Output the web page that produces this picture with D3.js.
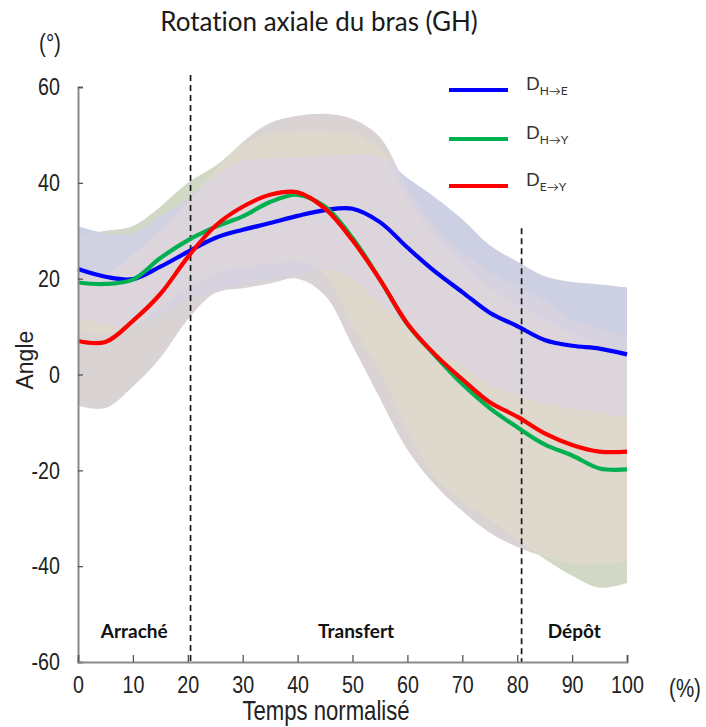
<!DOCTYPE html>
<html>
<head>
<meta charset="utf-8">
<script src="https://cdn.jsdelivr.net/npm/d3@7/dist/d3.min.js"></script>
<style>
  body { margin: 0; background: #fff; }
  text { font-variant-ligatures: none; }
</style>
</head>
<body>
<svg id="chart" width="706" height="727"></svg>
<script>
// Normalised time (%) at which every curve is sampled
const pct = [0, 5, 10, 15, 20, 25, 30, 35, 40, 45, 50, 55, 60, 65, 70, 75, 80, 85, 90, 95, 100];

// D H→E : mean and dispersion band (°)
const meanHE  = [22.0, 20.4, 19.9, 22.5, 25.6, 28.5, 30.2, 31.6, 33.1, 34.3, 34.6, 31.8, 26.5, 21.5, 17.2, 12.9, 10.1, 7.2, 6.0, 5.4, 4.2];
const upperHE = [31.0, 29.5, 29.5, 33.0, 36.5, 41.5, 44.5, 45.0, 45.3, 45.5, 45.8, 45.5, 41.0, 37.0, 32.4, 27.0, 23.6, 20.5, 19.3, 18.8, 18.2];
const lowerHE = [12.0, 10.5, 10.0, 12.5, 15.5, 17.5, 18.8, 19.8, 20.8, 22.0, 20.0, 15.0, 10.0, 5.5, 2.0, -2.0, -4.5, -6.0, -7.0, -8.0, -8.8];

// D H→Y
const meanHY  = [19.2, 18.9, 19.8, 24.3, 28.0, 30.8, 33.0, 36.0, 37.5, 35.0, 28.5, 19.8, 10.5, 4.0, -2.0, -7.0, -11.0, -14.6, -16.9, -19.6, -19.8];
const upperHY = [29.0, 30.0, 31.0, 35.0, 40.0, 43.5, 48.0, 50.3, 50.7, 50.7, 50.3, 47.0, 37.0, 29.0, 23.0, 18.0, 14.5, 11.5, 8.5, 6.0, 3.5];
const lowerHY = [9.4, 8.5, 10.0, 14.0, 18.0, 21.0, 22.5, 23.0, 23.5, 21.0, 10.0, 0.5, -11.5, -21.5, -26.5, -30.3, -34.4, -38.5, -42.0, -44.5, -43.5];

// D E→Y
const meanEY  = [7.0, 6.8, 11.2, 16.8, 24.5, 31.0, 35.0, 37.5, 38.0, 34.6, 28.0, 19.8, 10.6, 4.2, -1.0, -5.8, -8.8, -12.3, -14.7, -16.1, -16.1];
const upperEY = [20.5, 21.0, 25.0, 30.0, 36.0, 42.5, 48.5, 52.5, 54.0, 54.4, 53.3, 49.5, 39.0, 31.0, 25.5, 21.5, 18.5, 15.5, 11.5, 9.5, 7.7];
const lowerEY = [-6.5, -7.0, -2.5, 3.5, 11.5, 17.0, 18.0, 19.0, 20.0, 16.5, 6.0, -5.0, -15.7, -23.0, -28.5, -33.0, -36.0, -38.0, -39.5, -39.5, -39.0];

// Axes
const xTicks = [0, 10, 20, 30, 40, 50, 60, 70, 80, 90, 100];
const yTicks = [-60, -40, -20, 0, 20, 40, 60];

// Task phases: boundaries (%) and the angle each dashed marker rises to
const phaseBounds = [20.5, 80.8];
const phaseTops = [62.5, 30.5];
const phaseNames = ["Arraché", "Transfert", "Dépôt"];

const legendSubs = ["H→E", "H→Y", "E→Y"];

const svg = d3.select("#chart");
const x = d3.scaleLinear().domain([0, 100]).range([78, 627]);
const y = d3.scaleLinear().domain([-60, 60]).range([662, 87]);

const series = [
  { id: "B", mean: meanHE, hi: upperHE, lo: lowerHE, color: "#0000ff", sub: legendSubs[0] },
  { id: "G", mean: meanHY, hi: upperHY, lo: lowerHY, color: "#00b050", sub: legendSubs[1] },
  { id: "R", mean: meanEY, hi: upperEY, lo: lowerEY, color: "#ff0000", sub: legendSubs[2] }
];

const curve = d3.curveCatmullRom.alpha(0.5);
const band = s => d3.area()
  .x((d, i) => x(pct[i]))
  .y0((d, i) => y(s.lo[i]))
  .y1((d, i) => y(s.hi[i]))
  .curve(curve)(pct);
const meanLine = s => d3.line()
  .x((d, i) => x(pct[i]))
  .y((d, i) => y(s.mean[i]))
  .curve(curve)(pct);

const byId = Object.fromEntries(series.map(s => [s.id, s]));

// clip paths so that each overlap of the bands gets its own tint
const defs = svg.append("defs");
series.forEach(s => {
  defs.append("clipPath").attr("id", "clip-" + s.id)
    .append("path").attr("d", band(s));
});

const tint = {
  R: "#d9d3d4", G: "#d1d9c6", B: "#cdd0e3",
  RG: "#dfd8cc", BG: "#d0d2e2", BR: "#d7d2df", BRG: "#ddd5dc"
};

const bands = svg.append("g");
bands.append("path").attr("d", band(byId.R)).attr("fill", tint.R);
bands.append("path").attr("d", band(byId.G)).attr("fill", tint.G);
bands.append("path").attr("d", band(byId.B)).attr("fill", tint.B);
bands.append("path").attr("d", band(byId.R)).attr("fill", tint.RG).attr("clip-path", "url(#clip-G)");
bands.append("path").attr("d", band(byId.B)).attr("fill", tint.BG).attr("clip-path", "url(#clip-G)");
bands.append("path").attr("d", band(byId.B)).attr("fill", tint.BR).attr("clip-path", "url(#clip-R)");
bands.append("g").attr("clip-path", "url(#clip-R)")
  .append("path").attr("d", band(byId.B)).attr("fill", tint.BRG).attr("clip-path", "url(#clip-G)");

// phase boundaries
svg.append("g").selectAll("line").data(phaseBounds).join("line")
  .attr("x1", d => x(d)).attr("x2", d => x(d))
  .attr("y1", (d, i) => y(phaseTops[i])).attr("y2", y(-60))
  .attr("stroke", "#1a1a1a").attr("stroke-width", 1.7).attr("stroke-dasharray", "6,4");

// mean curves
svg.append("g").selectAll("path").data(series).join("path")
  .attr("d", s => meanLine(s))
  .attr("fill", "none")
  .attr("stroke", s => s.color)
  .attr("stroke-width", 4.2)
  .attr("stroke-linejoin", "round");

// condensed sans: Liberation Sans squeezed horizontally
const SQ = 0.82;
const sansFont = "'Liberation Sans', Arial, sans-serif";
function squeeze(sel) {
  sel.each(function () {
    const t = d3.select(this);
    const x0 = +(t.attr("x") || 0);
    t.attr("x", x0 / SQ).attr("transform", `scale(${SQ},1)`);
  });
}

// axes
const axisColor = "#8a8a8a";
const yAxis = svg.append("g").attr("transform", `translate(${x(0)},0)`)
  .call(d3.axisLeft(y).tickValues(yTicks).tickFormat(d => String(d))
    .tickSizeInner(-5).tickSizeOuter(-5).tickPadding(18));
const xAxis = svg.append("g").attr("transform", `translate(0,${y(-60)})`)
  .call(d3.axisBottom(x).tickValues(xTicks).tickFormat(d => String(d))
    .tickSizeInner(-7).tickSizeOuter(-7).tickPadding(14));
[yAxis, xAxis].forEach(a => {
  a.select(".domain").attr("stroke", axisColor).attr("stroke-width", 2);
  a.selectAll(".tick line").attr("stroke", "#555").attr("stroke-width", 1.3);
  a.selectAll(".tick text").attr("font-family", sansFont).attr("font-size", 24).attr("fill", "#222")
    .call(squeeze);
});

// axis titles
svg.append("text").attr("x", 50).attr("y", 52).attr("font-family", sansFont)
  .attr("text-anchor", "middle").attr("font-size", 25).attr("fill", "#222").text("(°)").call(squeeze);
svg.append("text").attr("x", 685).attr("y", 697).attr("font-family", sansFont)
  .attr("text-anchor", "middle").attr("font-size", 25).attr("fill", "#222").text("(%)").call(squeeze);
svg.append("text").attr("font-family", sansFont)
  .attr("transform", `translate(33,${y(3)}) rotate(-90)`)
  .attr("text-anchor", "middle").attr("font-size", 23).attr("fill", "#222").text("Angle");
svg.append("text").attr("x", 326).attr("y", 720).attr("font-family", sansFont)
  .attr("text-anchor", "middle").attr("font-size", 27).attr("fill", "#222").text("Temps normalisé")
  .call(squeeze);

// title
svg.append("text").attr("x", 319).attr("y", 31)
  .attr("text-anchor", "middle").attr("font-family", "Lato, 'Open Sans', sans-serif")
  .attr("font-size", 26).attr("fill", "#1a1a1a").text("Rotation axiale du bras (GH)");

// phase names
const phaseEdges = [0, ...phaseBounds, 100];
svg.append("g").selectAll("text").data(phaseNames).join("text")
  .attr("x", (d, i) => x((phaseEdges[i] + phaseEdges[i + 1]) / 2))
  .attr("y", 638)
  .attr("text-anchor", "middle")
  .attr("font-family", "Lato, 'Open Sans', sans-serif")
  .attr("font-weight", "bold").attr("font-size", 19).attr("fill", "#111")
  .text(d => d);

// legend
const legend = svg.append("g");
const rowY = [90, 139, 186];
series.forEach((s, i) => {
  legend.append("line").attr("x1", 449).attr("x2", 508).attr("y1", rowY[i]).attr("y2", rowY[i])
    .attr("stroke", s.color).attr("stroke-width", 4);
  const t = legend.append("text").attr("x", 526).attr("y", rowY[i])
    .attr("font-family", "Lato, 'Open Sans', sans-serif").attr("fill", "#333").attr("font-size", 18);
  t.append("tspan").text("D");
  t.append("tspan").attr("font-size", 12).attr("dy", 5).text(s.sub);
});
</script>
</body>
</html>
